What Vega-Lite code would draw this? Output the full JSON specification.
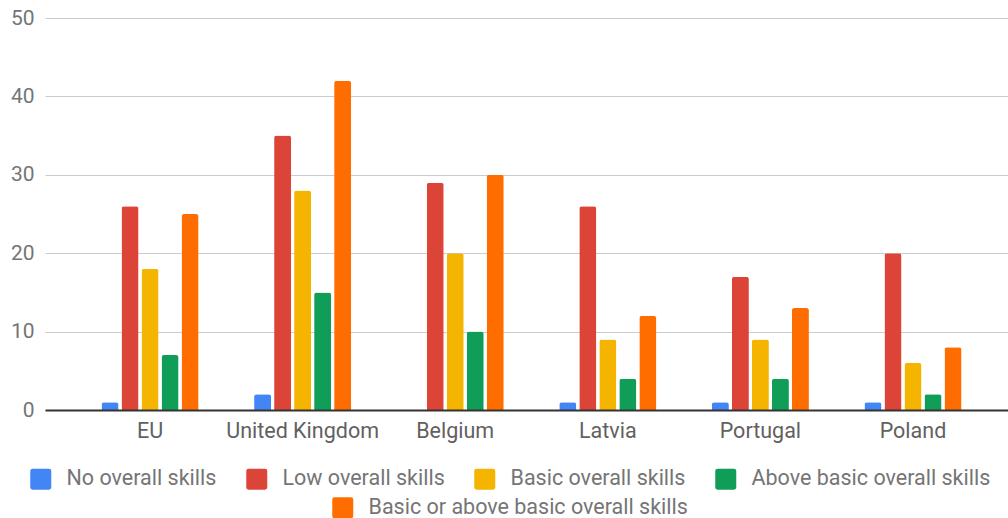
{
  "$schema": "https://vega.github.io/schema/vega-lite/v6.json",
  "autosize": {"type": "none"},
  "width": 963,
  "height": 392,
  "padding": {"left": 45, "top": 18, "right": 0, "bottom": 108},
  "background": "white",
  "data": {"values": [
    {"country": "EU", "series": "No overall skills", "value": 1},
    {"country": "EU", "series": "Low overall skills", "value": 26},
    {"country": "EU", "series": "Basic overall skills", "value": 18},
    {"country": "EU", "series": "Above basic overall skills", "value": 7},
    {"country": "EU", "series": "Basic or above basic overall skills", "value": 25},
    {"country": "United Kingdom", "series": "No overall skills", "value": 2},
    {"country": "United Kingdom", "series": "Low overall skills", "value": 35},
    {"country": "United Kingdom", "series": "Basic overall skills", "value": 28},
    {"country": "United Kingdom", "series": "Above basic overall skills", "value": 15},
    {"country": "United Kingdom", "series": "Basic or above basic overall skills", "value": 42},
    {"country": "Belgium", "series": "No overall skills", "value": 0},
    {"country": "Belgium", "series": "Low overall skills", "value": 29},
    {"country": "Belgium", "series": "Basic overall skills", "value": 20},
    {"country": "Belgium", "series": "Above basic overall skills", "value": 10},
    {"country": "Belgium", "series": "Basic or above basic overall skills", "value": 30},
    {"country": "Latvia", "series": "No overall skills", "value": 1},
    {"country": "Latvia", "series": "Low overall skills", "value": 26},
    {"country": "Latvia", "series": "Basic overall skills", "value": 9},
    {"country": "Latvia", "series": "Above basic overall skills", "value": 4},
    {"country": "Latvia", "series": "Basic or above basic overall skills", "value": 12},
    {"country": "Portugal", "series": "No overall skills", "value": 1},
    {"country": "Portugal", "series": "Low overall skills", "value": 17},
    {"country": "Portugal", "series": "Basic overall skills", "value": 9},
    {"country": "Portugal", "series": "Above basic overall skills", "value": 4},
    {"country": "Portugal", "series": "Basic or above basic overall skills", "value": 13},
    {"country": "Poland", "series": "No overall skills", "value": 1},
    {"country": "Poland", "series": "Low overall skills", "value": 20},
    {"country": "Poland", "series": "Basic overall skills", "value": 6},
    {"country": "Poland", "series": "Above basic overall skills", "value": 2},
    {"country": "Poland", "series": "Basic or above basic overall skills", "value": 8}
  ]},
  "config": {
    "view": {"stroke": null},
    "font": "Roboto",
    "legend": {
      "orient": "bottom",
      "direction": "horizontal",
      "symbolType": "M-0.78,-1H0.78Q1,-1,1,-0.78V0.78Q1,1,0.78,1H-0.78Q-1,1,-1,0.78V-0.78Q-1,-1,-0.78,-1Z",
      "symbolSize": 441,
      "symbolStrokeWidth": 0,
      "symbolOpacity": 1,
      "labelFontSize": 21.5,
      "labelColor": "#757575",
      "labelOffset": 15,
      "columnPadding": 29,
      "labelLimit": 400,
      "offset": 26,
      "titleOrient": "right",
      "titleFontSize": 12,
      "titlePadding": 34,
      "layout": {"bottom": {"anchor": "middle", "direction": "vertical", "center": true, "margin": 7}}
    }
  },
  "encoding": {
    "x": {
      "field": "country", "type": "nominal",
      "scale": {"domain": ["EU", "United Kingdom", "Belgium", "Latvia", "Portugal", "Poland"], "paddingInner": 0.364, "paddingOuter": 0.3375, "align": 0.5485},
      "axis": {"title": null, "labelAngle": 0, "labelFontSize": 21.5, "labelColor": "#616161", "labelPadding": 10, "labelOverlap": false, "labelLimit": 300, "ticks": false, "domainColor": "#333333", "domainWidth": 2, "zindex": 1}
    },
    "xOffset": {
      "field": "series", "type": "nominal",
      "scale": {"domain": ["No overall skills", "Low overall skills", "Basic overall skills", "Above basic overall skills", "Basic or above basic overall skills"], "paddingInner": 0.15, "paddingOuter": 0}
    },
    "y": {
      "field": "value", "type": "quantitative",
      "scale": {"domain": [0, 50]},
      "axis": {"title": null, "values": [0, 10, 20, 30, 40, 50], "labelFontSize": 21, "labelColor": "#757575", "labelPadding": 11, "ticks": false, "domain": false, "gridColor": "#cccccc"}
    }
  },
  "layer": [
    {
      "transform": [{"filter": "datum.series !== 'Basic or above basic overall skills'"}],
      "mark": {"type": "bar", "cornerRadiusTopLeft": 2.5, "cornerRadiusTopRight": 2.5},
      "encoding": {
        "color": {
          "field": "series", "type": "nominal",
          "scale": {"domain": ["No overall skills", "Low overall skills", "Basic overall skills", "Above basic overall skills"], "range": ["#4285F4", "#DB4437", "#F4B400", "#0F9D58"]},
          "legend": {"title": " ", "symbolType": "M-0.78,-1H0.78Q1,-1,1,-0.78V0.78Q1,1,0.78,1H-0.78Q-1,1,-1,0.78V-0.78Q-1,-1,-0.78,-1Z"}
        }
      }
    },
    {
      "transform": [{"filter": "datum.series === 'Basic or above basic overall skills'"}],
      "mark": {"type": "bar", "cornerRadiusTopLeft": 2.5, "cornerRadiusTopRight": 2.5},
      "encoding": {
        "color": {
          "field": "series", "type": "nominal",
          "scale": {"domain": ["Basic or above basic overall skills"], "range": ["#FF6D00"]},
          "legend": {"title": " ", "symbolType": "M-0.78,-1H0.78Q1,-1,1,-0.78V0.78Q1,1,0.78,1H-0.78Q-1,1,-1,0.78V-0.78Q-1,-1,-0.78,-1Z"}
        }
      }
    }
  ],
  "resolve": {"scale": {"color": "independent"}}
}
